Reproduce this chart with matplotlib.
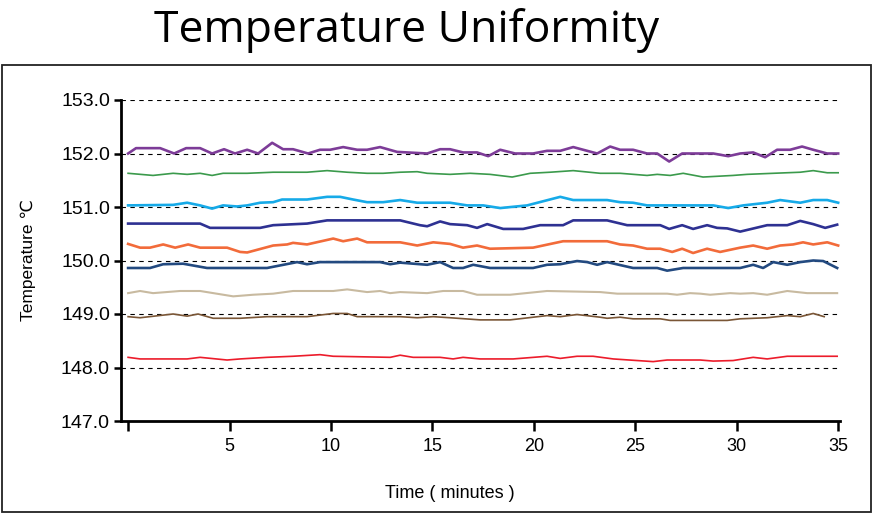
import matplotlib
matplotlib.use('Agg')
import matplotlib.pyplot as plt
from matplotlib.patches import Rectangle

# digitised readings, time in minutes / temperature in deg C
t_purple = [0, 0.39, 1.58, 2.27, 2.86, 3.55, 4.14, 4.73, 5.27, 5.87, 6.41, 7.10, 7.64, 8.13, 8.87, 9.46, 9.96, 10.60,
            11.29, 11.78, 12.42, 13.26, 14.74, 15.38, 15.87, 16.51, 17.20, 17.75, 18.34, 19.08, 19.96, 20.65, 21.30,
            21.94, 23.12, 23.76, 24.25, 24.89, 25.58, 26.08, 26.67, 27.31, 28.84, 29.58, 30.17, 30.81, 31.40, 31.99,
            32.63, 33.22, 33.77, 34.46, 35.0]
v_purple = [152.0, 152.1, 152.1, 152.0, 152.1, 152.1, 152.0, 152.08, 152.0, 152.07, 152.0, 152.2, 152.08, 152.08,
            152.0, 152.07, 152.07, 152.12, 152.07, 152.07, 152.12, 152.03, 152.0, 152.08, 152.08, 152.02, 152.02,
            151.95, 152.07, 152.0, 152.0, 152.05, 152.05, 152.12, 152.0, 152.13, 152.07, 152.07, 152.0, 152.0,
            151.85, 152.0, 152.0, 151.95, 152.0, 152.02, 151.93, 152.07, 152.07, 152.13, 152.07, 152.0, 152.0]

t_green = [0, 1.23, 2.22, 2.91, 3.55, 4.14, 4.68, 5.87, 7.15, 8.82, 9.81, 10.80, 11.78, 12.57, 13.41, 14.25, 14.74,
           15.87, 16.86, 17.84, 18.93, 19.82, 20.80, 21.94, 23.27, 24.25, 25.58, 26.08, 26.72, 27.36, 28.34, 29.82,
           30.51, 31.80, 33.13, 33.77, 34.46, 35.0]
v_green = [151.63, 151.59, 151.63, 151.61, 151.63, 151.59, 151.63, 151.63, 151.65, 151.65, 151.68, 151.65, 151.63,
           151.63, 151.65, 151.66, 151.63, 151.61, 151.63, 151.61, 151.56, 151.63, 151.65, 151.68, 151.63, 151.63,
           151.59, 151.61, 151.59, 151.63, 151.56, 151.59, 151.61, 151.63, 151.65, 151.68, 151.64, 151.64]

t_sky = [0, 2.22, 2.91, 3.55, 4.14, 4.68, 5.37, 5.87, 6.51, 7.15, 7.59, 8.82, 9.81, 10.45, 11.09, 11.78, 12.57, 13.41,
         14.25, 15.87, 16.71, 17.50, 18.34, 19.67, 21.30, 21.94, 23.61, 24.25, 24.89, 25.58, 28.84, 29.58, 30.32,
         31.50, 32.14, 33.13, 33.77, 34.46, 35.0]
v_sky = [151.03, 151.04, 151.08, 151.03, 150.97, 151.03, 151.01, 151.03, 151.08, 151.09, 151.14, 151.14, 151.19,
         151.19, 151.14, 151.09, 151.09, 151.13, 151.08, 151.08, 151.03, 151.03, 150.98, 151.03, 151.19, 151.13,
         151.13, 151.09, 151.08, 151.03, 151.03, 150.98, 151.03, 151.08, 151.13, 151.08, 151.13, 151.13, 151.08]

t_indigo = [0, 3.55, 4.04, 6.51, 7.15, 8.82, 9.81, 13.41, 14.39, 14.74, 15.38, 15.87, 16.71, 17.20, 17.70, 18.49,
            19.47, 20.31, 21.44, 21.94, 23.61, 24.60, 26.23, 26.67, 27.31, 27.85, 28.54, 29.03, 29.53, 30.17, 31.50,
            32.49, 33.13, 33.77, 34.36, 34.95]
v_indigo = [150.69, 150.69, 150.61, 150.61, 150.66, 150.69, 150.75, 150.75, 150.66, 150.64, 150.73, 150.68, 150.66,
            150.61, 150.68, 150.59, 150.59, 150.66, 150.66, 150.75, 150.75, 150.66, 150.66, 150.59, 150.66, 150.59,
            150.66, 150.61, 150.60, 150.54, 150.66, 150.66, 150.74, 150.68, 150.61, 150.67]

t_orange = [0, 0.59, 1.08, 1.73, 2.32, 2.96, 3.55, 4.88, 5.52, 5.87, 7.15, 7.84, 8.13, 8.82, 10.11, 10.60, 11.29,
            11.78, 13.41, 14.25, 15.04, 15.87, 16.51, 17.20, 17.84, 19.96, 21.44, 23.61, 24.25, 24.89, 25.58, 26.23,
            26.82, 27.31, 27.85, 28.54, 29.18, 30.17, 30.81, 31.50, 32.14, 32.78, 33.27, 33.77, 34.46, 35.0]
v_orange = [150.31, 150.24, 150.24, 150.30, 150.24, 150.30, 150.24, 150.24, 150.16, 150.15, 150.28, 150.30, 150.33,
            150.30, 150.41, 150.36, 150.41, 150.34, 150.34, 150.28, 150.34, 150.31, 150.24, 150.28, 150.22, 150.24,
            150.36, 150.36, 150.30, 150.28, 150.22, 150.22, 150.16, 150.22, 150.14, 150.22, 150.16, 150.24, 150.28,
            150.22, 150.28, 150.30, 150.34, 150.30, 150.34, 150.28]

t_navy = [0, 1.08, 1.73, 2.71, 3.89, 6.85, 8.33, 8.82, 9.46, 12.42, 12.92, 13.41, 14.74, 15.38, 16.02, 16.51, 17.01,
          17.84, 19.96, 20.65, 21.30, 22.13, 22.63, 23.12, 23.61, 24.89, 26.08, 26.57, 27.36, 30.17, 30.81, 31.30,
          31.80, 32.49, 33.13, 33.77, 34.26, 34.95]
v_navy = [149.86, 149.86, 149.93, 149.94, 149.86, 149.86, 149.97, 149.93, 149.97, 149.97, 149.93, 149.96, 149.92,
          149.97, 149.86, 149.86, 149.92, 149.86, 149.86, 149.92, 149.93, 149.99, 149.97, 149.92, 149.97, 149.86,
          149.86, 149.81, 149.86, 149.86, 149.92, 149.86, 149.97, 149.92, 149.97, 150.0, 149.99, 149.86]

t_beige = [0, 0.59, 1.23, 2.56, 3.55, 5.18, 6.16, 7.15, 8.13, 10.11, 10.80, 11.78, 12.42, 12.92, 13.41, 14.74, 15.53,
           16.51, 17.20, 18.83, 20.65, 23.27, 24.11, 26.57, 27.06, 27.70, 28.20, 28.69, 29.68, 30.17, 30.81, 31.50,
           32.49, 33.47, 34.95]
v_beige = [149.39, 149.43, 149.39, 149.43, 149.43, 149.33, 149.36, 149.38, 149.43, 149.43, 149.46, 149.41, 149.43,
           149.39, 149.41, 149.39, 149.43, 149.43, 149.36, 149.36, 149.43, 149.41, 149.38, 149.38, 149.36, 149.39,
           149.38, 149.36, 149.39, 149.38, 149.39, 149.36, 149.43, 149.39, 149.39]

t_brown = [0, 0.59, 2.22, 2.91, 3.45, 4.19, 5.52, 6.85, 8.82, 10.11, 10.80, 11.29, 13.41, 14.25, 15.04, 15.87, 17.35,
           18.83, 20.65, 21.30, 22.13, 23.27, 23.61, 24.25, 24.89, 26.23, 26.72, 29.53, 30.17, 31.50, 32.49, 33.13,
           33.77, 34.31]
v_brown = [148.95, 148.93, 149.0, 148.96, 149.0, 148.92, 148.92, 148.95, 148.95, 149.01, 149.01, 148.95, 148.95,
           148.93, 148.95, 148.93, 148.89, 148.89, 148.97, 148.95, 148.99, 148.94, 148.92, 148.94, 148.91, 148.91,
           148.88, 148.88, 148.91, 148.93, 148.97, 148.95, 149.01, 148.95]

t_red = [0, 0.59, 2.91, 3.55, 4.88, 5.52, 6.85, 8.13, 9.46, 10.11, 12.92, 13.41, 14.05, 15.38, 16.02, 16.51, 17.35,
         18.98, 20.65, 21.30, 22.13, 22.92, 23.91, 25.88, 26.57, 28.20, 28.84, 29.82, 30.81, 31.50, 32.49, 34.95]
v_red = [148.19, 148.16, 148.16, 148.19, 148.14, 148.16, 148.19, 148.21, 148.24, 148.21, 148.19, 148.23, 148.19,
         148.19, 148.16, 148.19, 148.16, 148.16, 148.21, 148.17, 148.21, 148.21, 148.16, 148.11, 148.14, 148.14,
         148.12, 148.13, 148.19, 148.16, 148.21, 148.21]

y_ticks = [147, 148, 149, 150, 151, 152, 153]
x_ticks = [0, 5, 10, 15, 20, 25, 30, 35]
x_labels = ['', '5', '10', '15', '20', '25', '30', '35']

sans = ['Liberation Sans', 'DejaVu Sans']

fig = plt.figure(figsize=(8.74, 5.14), dpi=100)
fig.patches.append(Rectangle((2/874, 2/514), 869/874, 447/514, transform=fig.transFigure,
                             fill=False, edgecolor='#222222', linewidth=1.3))
fig.text(0.465, 0.94, 'Temperature Uniformity', ha='center', va='center',
         fontsize=32, family=['Open Sans', 'DejaVu Sans'])

ax = fig.add_axes([121/874, 93/514, 719/874, 321/514])

for yv in y_ticks[1:]:
    ax.axhline(yv, color='black', lw=0.8, ls=(0, (4, 4)), zorder=1)

ax.plot(t_purple, v_purple, color='#7d3c98', lw=1.9)
ax.plot(t_green, v_green, color='#3b9a4c', lw=1.2)
ax.plot(t_sky, v_sky, color='#16aae8', lw=1.9)
ax.plot(t_indigo, v_indigo, color='#2e3192', lw=1.9)
ax.plot(t_orange, v_orange, color='#f26b3a', lw=1.9)
ax.plot(t_navy, v_navy, color='#234a80', lw=1.9)
ax.plot(t_beige, v_beige, color='#c8baa0', lw=1.5)
ax.plot(t_brown, v_brown, color='#7a5636', lw=1.2)
ax.plot(t_red, v_red, color='#ec1c2b', lw=1.2)

ax.set_xlim(-0.35, 35.09)
ax.set_ylim(147, 153)
ax.set_yticks(y_ticks)
ax.set_yticklabels(['%.1f' % v for v in y_ticks], family=sans, fontsize=14)
ax.set_xticks(x_ticks)
ax.set_xticklabels(x_labels, family=sans, fontsize=13)
ax.tick_params(axis='y', length=5, width=1.8, pad=3)
ax.tick_params(axis='x', length=7, width=1.8, pad=5)

for s in ['top', 'right']:
    ax.spines[s].set_visible(False)
for s in ['left', 'bottom']:
    ax.spines[s].set_linewidth(2)

ax.set_xlabel('Time ( minutes )', family=sans, fontsize=13)
ax.xaxis.set_label_coords(0.4576, -0.20)
ax.set_ylabel('Temperature ℃', family=sans, fontsize=12.5, labelpad=18)

fig.savefig('out.png', dpi=100)
